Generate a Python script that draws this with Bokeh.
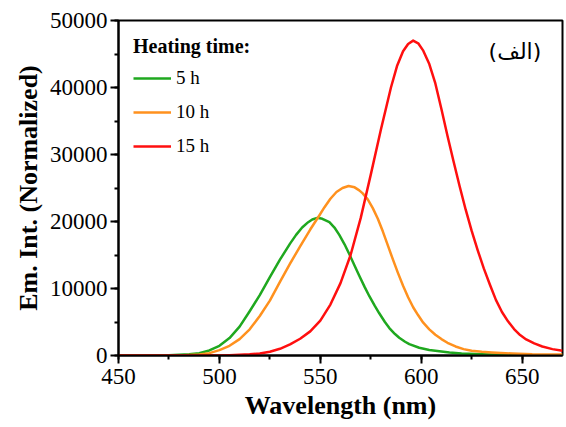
from bokeh.plotting import figure
from bokeh.models import (Legend, LegendItem, SingleIntervalTicker, BasicTickFormatter,
                          Range1d, Label)
from bokeh.embed import file_html
from bokeh.resources import INLINE

# ---- data ----
green_x = [450, 465, 475, 480, 485, 490, 495, 500, 505, 510, 515, 520, 525, 530, 535, 538,
           541, 544, 546, 548.5, 551, 554.5, 557, 559.4, 562, 564.4, 567, 569.3, 572, 574.3,
           577, 579.2, 582, 584.2, 587, 589.1, 592, 594.1, 599, 604, 609, 614, 620, 630, 640,
           655, 670]
green_y = [0, 0, 50, 120, 200, 350, 750, 1450, 2600, 4300, 6600, 9000, 11700, 14300, 16700, 18000,
           19100, 19900, 20300, 20550, 20400, 19900, 19100, 18000, 16600, 15100, 13400, 11900, 10200, 8850,
           7400, 6300, 5000, 4100, 3200, 2650, 2050, 1700, 1150, 820, 620, 450, 300, 170, 100,
           30, 0]

orange_x = [450, 480, 485, 490, 495, 500, 505, 510, 515, 520, 525, 530, 535, 540, 545, 549.5,
            552, 555, 558, 561, 564, 567, 569.3, 571, 573.5, 576, 578.5, 581, 583.5, 586, 588.5,
            591, 593.5, 596, 598.5, 601, 604, 607, 610, 613, 617, 621, 625, 630, 635, 645, 655,
            670]
orange_y = [0, 0, 60, 150, 350, 800, 1450, 2450, 3900, 5900, 8200, 11000, 13700, 16300, 18800, 20900,
            22100, 23400, 24400, 25000, 25300, 25100, 24650, 24200, 23300, 22000, 20400, 18500, 16400, 14300, 12300,
            10400, 8700, 7200, 6000, 4900, 3900, 3100, 2450, 1900, 1350, 950, 700, 550, 450, 300, 200,
            150]

red_x = [450, 500, 505, 510, 515, 520, 525, 530, 535, 540, 545, 550, 555, 560, 565, 570, 575,
         580, 585, 588, 591, 593.5, 596, 598.5, 601, 604, 607, 610, 613, 616, 619, 622, 625, 628,
         631, 634, 637, 640, 643, 646, 649, 652, 656, 660, 665, 670]
red_y = [0, 0, 50, 100, 180, 300, 550, 1000, 1650, 2500, 3600, 5200, 7600, 10800, 15000, 20500, 27000,
         33700, 40000, 43200, 45400, 46500, 47000, 46600, 45500, 43500, 40600, 36800, 32800, 29000, 25300, 21800, 18600, 15700,
         13000, 10600, 8300, 6500, 5100, 3950, 3050, 2400, 1800, 1350, 950, 700]

series_labels = ["5 h", "10 h", "15 h"]
series_colors = ["#1fa81f", "#ff911e", "#ff0f0f"]
legend_title = "Heating time:"
panel_tag = "(الف)"
x_label = "Wavelength (nm)"
y_label = "Em. Int. (Normalized)"

FONT = "Liberation Serif"

p = figure(frame_width=444, frame_height=335, output_backend="svg", toolbar_location=None,
           x_range=Range1d(450, 670), y_range=Range1d(0, 50000),
           min_border_left=118, min_border_top=20, min_border_right=3, min_border_bottom=63)
p.xgrid.visible = False
p.ygrid.visible = False
p.outline_line_color = "black"
p.outline_line_width = 2
p.background_fill_color = "white"
p.border_fill_color = "white"

renderers = []
for xs, ys, c in zip([green_x, orange_x, red_x], [green_y, orange_y, red_y], series_colors):
    r = p.line(xs, ys, line_color=c, line_width=2.5, line_join="round")
    renderers.append(r)

p.xaxis.ticker = SingleIntervalTicker(interval=50, num_minor_ticks=2)
p.yaxis.ticker = SingleIntervalTicker(interval=10000, num_minor_ticks=2)
p.yaxis.formatter = BasicTickFormatter(use_scientific=False)

for ax in (p.xaxis, p.yaxis):
    ax.axis_line_width = 2
    ax.axis_line_color = "black"
    ax.major_tick_line_width = 2
    ax.minor_tick_line_width = 2
    ax.major_tick_out = 8
    ax.major_tick_in = 0
    ax.minor_tick_out = 4
    ax.minor_tick_in = 0
    ax.major_label_text_font = FONT
    ax.major_label_text_font_size = "23px"
    ax.major_label_text_color = "black"
    ax.axis_label_text_font = FONT
    ax.axis_label_text_font_style = "bold"
    ax.axis_label_text_font_size = "26px"
    ax.axis_label_text_color = "black"

p.xaxis.axis_label = x_label
p.yaxis.axis_label = y_label
p.xaxis.major_label_standoff = 5
p.yaxis.major_label_standoff = 3
p.xaxis.axis_label_standoff = 4
p.yaxis.axis_label_standoff = 4

legend = Legend(items=[LegendItem(label=l, renderers=[r]) for l, r in zip(series_labels, renderers)],
                location="top_left", title=legend_title,
                title_text_font=FONT, title_text_font_style="bold", title_text_font_size="20px",
                title_text_color="black", title_standoff=9,
                label_text_font=FONT, label_text_font_size="19px", label_text_color="black",
                glyph_width=38, glyph_height=20, label_height=20, spacing=12,
                label_standoff=5, margin=0, padding=15,
                border_line_alpha=0, background_fill_alpha=0)
p.add_layout(legend)

tag = Label(x=659.5, y=45300, text=panel_tag, text_align="right", text_baseline="middle",
            text_font="DejaVu Sans", text_font_size="22px", text_color="black")
p.add_layout(tag)

open("out.html", "w").write(file_html(p, INLINE))
